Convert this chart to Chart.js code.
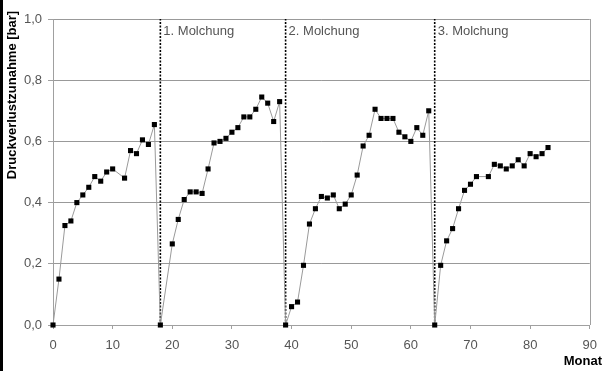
<!DOCTYPE html>
<html>
<head>
<meta charset="utf-8">
<script src="https://cdn.jsdelivr.net/npm/chart.js@4/dist/chart.umd.min.js"></script>
<style>
  html, body { margin: 0; padding: 0; background: #fff; }
  #wrap { position: relative; width: 606px; height: 371px; }
  #stripe { position: absolute; left: 0; top: 0; width: 3px; height: 371px; background: #000; }
  canvas { display: block; }
</style>
</head>
<body>
<div id="wrap">
  <canvas id="c" width="606" height="371"></canvas>
  <div id="stripe"></div>
</div>
<script>
const months = [0,1,2,3,4,5,6,7,8,9,10,12,13,14,15,16,17,18,
  20,21,22,23,24,25,26,27,28,29,30,31,32,33,34,35,36,37,38,39,
  40,41,42,43,44,45,46,47,48,49,50,51,52,53,54,55,56,57,58,59,60,61,62,63,64,
  65,66,67,68,69,70,71,73,74,75,76,77,78,79,80,81,82,83];
const pressureIncrease = [0,0.15,0.325,0.34,0.40,0.425,0.45,0.485,0.47,0.50,0.51,0.48,0.57,0.56,0.605,0.59,0.655,0,
  0.265,0.345,0.41,0.435,0.435,0.43,0.51,0.595,0.60,0.61,0.63,0.645,0.68,0.68,0.705,0.745,0.725,0.665,0.73,0,
  0.06,0.075,0.195,0.33,0.38,0.42,0.415,0.425,0.38,0.395,0.425,0.49,0.585,0.62,0.705,0.675,0.675,0.675,0.63,0.615,0.60,0.645,0.62,0.70,0,
  0.195,0.275,0.315,0.38,0.44,0.46,0.485,0.485,0.525,0.52,0.51,0.52,0.54,0.52,0.56,0.55,0.56,0.58];
const piggingMonths = [18, 39, 64];
const piggingLabels = ["1. Molchung", "2. Molchung", "3. Molchung"];
const xTicks = [0,10,20,30,40,50,60,70,80,90];
const yTicks = [0,0.2,0.4,0.6,0.8,1.0];
const yTitle = "Druckverlustzunahme [bar]";
const xTitle = "Monat";

const FONT = "'Liberation Sans', Arial, sans-serif";

const mainData = months.map((m, i) => ({ x: m, y: pressureIncrease[i] }));
const datasets = [{
  data: mainData,
  showLine: true,
  clip: false,
  borderColor: '#9a9a9a',
  borderWidth: 1,
  pointStyle: 'rect',
  pointRadius: 3.6,
  pointBackgroundColor: '#000',
  pointBorderColor: '#000',
  pointBorderWidth: 0,
  tension: 0
}];
piggingMonths.forEach(pm => {
  datasets.push({
    data: [{ x: pm, y: 0 }, { x: pm, y: 1 }],
    showLine: true,
    borderColor: '#000',
    borderWidth: 1.6,
    borderDash: [2, 1.5],
    pointRadius: 0
  });
});

const extras = {
  id: 'extras',
  afterDraw(chart) {
    const ctx = chart.ctx;
    const xs = chart.scales.x;
    const ca = chart.chartArea;
    ctx.save();
    // right border
    ctx.strokeStyle = '#a0a0a0';
    ctx.lineWidth = 1;
    ctx.beginPath();
    ctx.moveTo(Math.round(ca.right) + 0.5, ca.top);
    ctx.lineTo(Math.round(ca.right) + 0.5, ca.bottom);
    ctx.stroke();
    // pigging labels
    ctx.fillStyle = '#555';
    ctx.font = '13px ' + FONT;
    ctx.textBaseline = 'middle';
    ctx.textAlign = 'left';
    piggingMonths.forEach((pm, i) => {
      ctx.fillText(piggingLabels[i], xs.getPixelForValue(pm) + 3, 31);
    });
    // axis titles
    ctx.fillStyle = '#000';
    ctx.font = 'bold 13px ' + FONT;
    ctx.textAlign = 'right';
    ctx.textBaseline = 'alphabetic';
    ctx.fillText(xTitle, 602, 365);
    ctx.translate(16, 95);
    ctx.rotate(-Math.PI / 2);
    ctx.textAlign = 'center';
    ctx.fillText(yTitle, 0, 0);
    ctx.restore();
  }
};

new Chart(document.getElementById('c'), {
  type: 'scatter',
  data: { datasets },
  options: {
    responsive: false,
    animation: false,
    events: [],
    layout: { padding: { top: 19, right: 14, left: 0, bottom: 0 } },
    plugins: { legend: { display: false }, tooltip: { enabled: false } },
    scales: {
      x: {
        type: 'linear', min: 0, max: 90,
        afterBuildTicks(s) { s.ticks = xTicks.map(v => ({ value: v })); },
        afterFit(s) { s.height = 46; },
        ticks: { color: '#555', font: { family: FONT, size: 13 }, padding: 9, maxRotation: 0,
                 callback: v => String(v) },
        grid: { drawOnChartArea: false, color: '#a0a0a0', tickLength: 4, tickColor: '#a0a0a0' },
        border: { color: '#a0a0a0', width: 1 }
      },
      y: {
        type: 'linear', min: 0, max: 1,
        afterBuildTicks(s) { s.ticks = yTicks.map(v => ({ value: v })); },
        afterFit(s) { s.width = 53; },
        ticks: { color: '#555', font: { family: FONT, size: 13 }, padding: 6,
                 callback: v => v.toFixed(1).replace('.', ',') },
        grid: { color: '#999', tickLength: 5, tickColor: '#a0a0a0' },
        border: { color: '#a0a0a0', width: 1 }
      }
    }
  },
  plugins: [extras]
});
</script>
</body>
</html>
